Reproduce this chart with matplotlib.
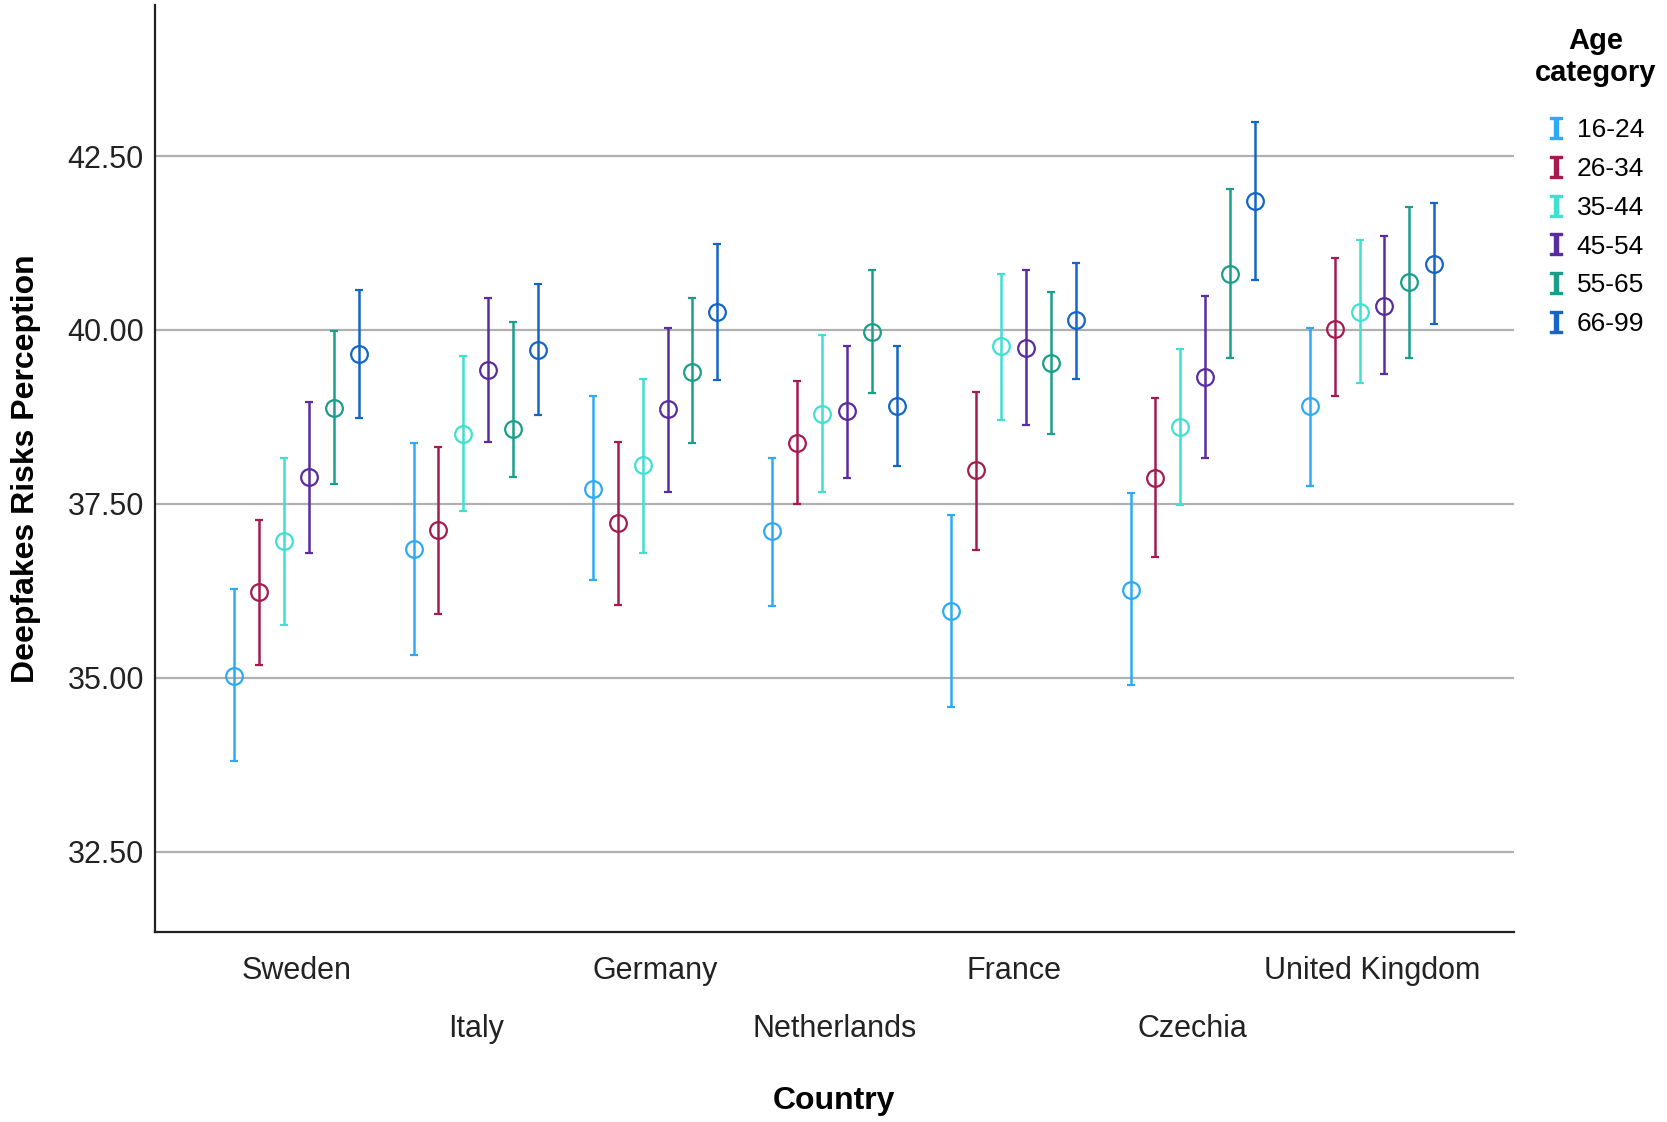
import matplotlib
matplotlib.use("Agg")
import matplotlib.pyplot as plt
from matplotlib.lines import Line2D
import numpy as np

plt.rcParams['font.family'] = ['Liberation Sans', 'DejaVu Sans']

countries = ["Sweden", "Italy", "Germany", "Netherlands", "France", "Czechia", "United Kingdom"]
ages = ["16-24", "26-34", "35-44", "45-54", "55-65", "66-99"]
colors = ["#2eaaf5", "#a61b4f", "#3fe0d0", "#5a2ca0", "#1a9e8a", "#1565c8"]

# mean, lower CI, upper CI per age group (rows) and country (columns)
means = np.array([
    [35.02, 36.85, 37.72, 37.11, 35.96, 36.26, 38.90],
    [36.23, 37.12, 37.23, 38.38, 37.98, 37.87, 40.02],
    [36.97, 38.51, 38.06, 38.79, 39.77, 38.61, 40.26],
    [37.89, 39.42, 38.87, 38.84, 39.74, 39.33, 40.35],
    [38.88, 38.58, 39.40, 39.97, 39.53, 40.81, 40.69],
    [39.65, 39.71, 40.26, 38.90, 40.14, 41.85, 40.95],
])
lower = np.array([
    [33.80, 35.33, 36.40, 36.03, 34.58, 34.90, 37.76],
    [35.18, 35.91, 36.05, 37.50, 36.83, 36.74, 39.05],
    [35.76, 37.40, 36.80, 37.67, 38.71, 37.49, 39.23],
    [36.80, 38.39, 37.67, 37.87, 38.64, 38.16, 39.36],
    [37.79, 37.89, 38.38, 39.10, 38.50, 39.60, 39.59],
    [38.73, 38.77, 39.28, 38.04, 39.30, 40.72, 40.08],
])
upper = np.array([
    [36.28, 38.38, 39.05, 38.16, 37.34, 37.66, 40.03],
    [37.27, 38.32, 38.39, 39.26, 39.11, 39.02, 41.03],
    [38.16, 39.63, 39.30, 39.92, 40.80, 39.72, 41.29],
    [38.97, 40.46, 40.03, 39.77, 40.86, 40.49, 41.35],
    [39.98, 40.12, 40.46, 40.86, 40.55, 42.02, 41.76],
    [40.57, 40.66, 41.23, 39.77, 40.96, 42.99, 41.82],
])

fig = plt.figure(figsize=(16.67, 11.22), dpi=100)
ax = fig.add_axes([0.093, 0.169, 0.815, 0.8265])

x = np.arange(len(countries))
step = 0.139
for i, age in enumerate(ages):
    xi = x + (i - 2.5) * step
    ax.errorbar(xi, means[i], yerr=[means[i] - lower[i], upper[i] - means[i]],
                fmt='o', color=colors[i], mfc='none', mec=colors[i],
                markersize=12, markeredgewidth=1.6, elinewidth=1.8,
                capsize=3, capthick=1.8, zorder=3)

ax.set_ylim(31.34, 44.67)
ax.set_xlim(-0.79, 6.79)
ax.set_yticks([32.5, 35.0, 37.5, 40.0, 42.5])
ax.set_yticklabels(["%.2f" % v for v in [32.5, 35.0, 37.5, 40.0, 42.5]], fontsize=22, color="#222222")
ax.yaxis.grid(True, color="#b0b0b0", linewidth=1.6)
ax.set_axisbelow(True)
ax.tick_params(axis='y', length=0, pad=8)

ax.set_xticks(x[::2])
ax.set_xticklabels(countries[::2], fontsize=22, color="#222222")
ax.set_xticks(x[1::2], minor=True)
ax.set_xticklabels(countries[1::2], minor=True, fontsize=22, color="#222222")
ax.tick_params(axis='x', which='major', length=0, pad=17)
ax.tick_params(axis='x', which='minor', length=0, pad=59)

for s in ["top", "right"]:
    ax.spines[s].set_visible(False)
for s in ["left", "bottom"]:
    ax.spines[s].set_linewidth(1.6)
    ax.spines[s].set_color("#222222")

ax.set_xlabel("Country", fontsize=23, fontweight="bold", labelpad=30)
ax.set_ylabel("Deepfakes Risks Perception", fontsize=23, fontweight="bold", labelpad=19)

# legend: title drawn separately so its spacing can match
fig.text(0.957, 0.976, "Age\ncategory", fontsize=21, fontweight="bold",
         ha="center", va="top", linespacing=1.2)
handles = [Line2D([], [], color=c, marker=r'$\mathtt{I}$', linestyle='none', markersize=16)
           for c in colors]
leg = fig.legend(handles, ages, loc="upper left", bbox_to_anchor=(0.919, 0.904),
                 frameon=False, fontsize=19, borderaxespad=0,
                 handlelength=1.0, handletextpad=0.3, labelspacing=0.56)

plt.savefig("out.png", dpi=100)
